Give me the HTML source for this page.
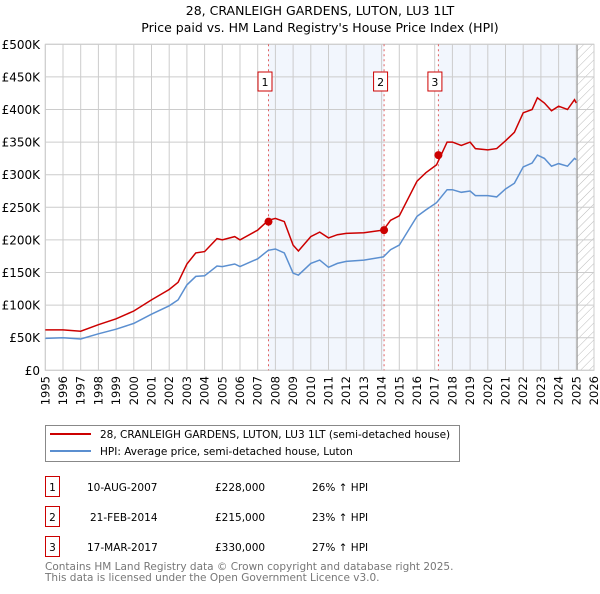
<!DOCTYPE html>
<html><head><meta charset="utf-8"><style>
body{margin:0;background:#fff;font-family:"DejaVu Sans","Liberation Sans",sans-serif;}
svg text{font-family:"DejaVu Sans","Liberation Sans",sans-serif;}
</style></head><body>
<svg id="c" width="600" height="590" xmlns="http://www.w3.org/2000/svg">
<defs><pattern id="hatch" width="6" height="6" patternUnits="userSpaceOnUse" patternTransform="rotate(45)"><line x1="0" y1="0" x2="0" y2="6" stroke="#bbb" stroke-width="1"/></pattern></defs>
<text x="320" y="15" text-anchor="middle" font-size="12.5">28, CRANLEIGH GARDENS, LUTON, LU3 1LT</text>
<text x="320" y="32" text-anchor="middle" font-size="12.5">Price paid vs. HM Land Registry's House Price Index (HPI)</text>
<g id="plot"></g>
<g>
<rect x="45.5" y="425.5" width="414" height="36" fill="#fff" stroke="#888"/>
<line x1="50" y1="434" x2="91" y2="434" stroke="#cc0000" stroke-width="2"/>
<text x="100" y="438" font-size="10.5">28, CRANLEIGH GARDENS, LUTON, LU3 1LT (semi-detached house)</text>
<line x1="50" y1="451" x2="91" y2="451" stroke="#5b8fd0" stroke-width="2"/>
<text x="100" y="455" font-size="10.5">HPI: Average price, semi-detached house, Luton</text>
</g>
<g font-size="10.5">
<rect x="45.5" y="476.5" width="14" height="20" fill="#fff" stroke="#cc0000"/><text x="52.5" y="491" text-anchor="middle">1</text>
<text x="87" y="491">10-AUG-2007</text><text x="215" y="491">£228,000</text><text x="312" y="491">26% ↑ HPI</text>
<rect x="45.5" y="506.5" width="14" height="20" fill="#fff" stroke="#cc0000"/><text x="52.5" y="521" text-anchor="middle">2</text>
<text x="90" y="521">21-FEB-2014</text><text x="215" y="521">£215,000</text><text x="312" y="521">23% ↑ HPI</text>
<rect x="45.5" y="536.5" width="14" height="20" fill="#fff" stroke="#cc0000"/><text x="52.5" y="551" text-anchor="middle">3</text>
<text x="87" y="551">17-MAR-2017</text><text x="215" y="551">£330,000</text><text x="312" y="551">27% ↑ HPI</text>
</g>
<text x="45" y="570" font-size="10.5" fill="#777">Contains HM Land Registry data © Crown copyright and database right 2025.</text>
<text x="45" y="581" font-size="10.5" fill="#777">This data is licensed under the Open Government Licence v3.0.</text>
</svg>
<script>
const years=[1995,1996,1997,1998,1999,2000,2001,2002,2002.5,2003,2003.5,2004,2004.7,2005,2005.7,2006,2007,2007.6,2008,2008.5,2009,2009.3,2010,2010.5,2011,2011.5,2012,2013,2014.1,2014.5,2015,2016,2016.5,2017.1,2017.7,2018,2018.5,2019,2019.3,2020,2020.5,2021,2021.5,2022,2022.5,2022.8,2023.2,2023.6,2024,2024.5,2024.9,2025];
const hpiValues=[49,50,48,56,63,72,86,99,108,131,144,145,160,159,163,159,171,184,186,180,149,146,164,169,158,164,167,169,174,185,192,236,246,257,277,277,273,275,268,268,266,278,287,312,318,330,325,313,317,313,325,323];
const propertyValues=[62,62,60,70,79,91,108,124,135,163,180,182,202,200,205,200,215,230,233,228,192,183,205,212,203,208,210,211,215,230,237,290,303,315,350,350,345,350,340,338,340,352,365,395,400,418,410,398,405,400,415,410];
const saleYears=[2007.61,2014.14,2017.21];
const salePrices=[228,215,330];
const yTicks=[0,50,100,150,200,250,300,350,400,450,500];
const yTickLabels=["£0","£50K","£100K","£150K","£200K","£250K","£300K","£350K","£400K","£450K","£500K"];
const xTicks=[1995,1996,1997,1998,1999,2000,2001,2002,2003,2004,2005,2006,2007,2008,2009,2010,2011,2012,2013,2014,2015,2016,2017,2018,2019,2020,2021,2022,2023,2024,2025,2026];

const X0=45.3,X1=594,Y0=370.3,Y1=44.3;
const xs=y=>X0+(y-1995)/(2026-1995)*(X1-X0);
const ys=v=>Y0-(v/500)*(Y0-Y1);
const NS="http://www.w3.org/2000/svg";
const g=document.getElementById('plot');
function mk(t,a){const e=document.createElementNS(NS,t);for(const k in a)e.setAttribute(k,a[k]);g.appendChild(e);return e;}
let e;
e=mk('rect',{x:X0,y:Y1,width:X1-X0,height:Y0-Y1,fill:'#fff'});


e=mk('rect',{x:xs(saleYears[0]),y:Y1,width:xs(saleYears[1])-xs(saleYears[0]),height:Y0-Y1,fill:'#eef3fc',opacity:0.75});


e=mk('rect',{x:xs(saleYears[2]),y:Y1,width:xs(2025.05)-xs(saleYears[2]),height:Y0-Y1,fill:'#eef3fc',opacity:0.75});


e=mk('rect',{x:xs(2025.05),y:Y1,width:X1-xs(2025.05),height:Y0-Y1,fill:'url(#hatch)'});


xTicks.forEach(t=>{
 e=mk('line',{x1:xs(t),x2:xs(t),y1:Y1,y2:Y0,stroke:'#ccc','stroke-width':1});
 
 
 e=mk('text',{x:0,y:0,'font-size':11.5,'text-anchor':'end',transform:`translate(${xs(t)+4},376) rotate(-90)`});
 e.textContent=t;
 
 
});
yTicks.forEach((t,i)=>{
 e=mk('line',{x1:X0,x2:X1,y1:ys(t),y2:ys(t),stroke:'#ccc','stroke-width':1});
 
 
 e=mk('text',{x:40,y:ys(t)+4.5,'font-size':12,'text-anchor':'end'});
 e.textContent=yTickLabels[i];
 
 
});
e=mk('line',{x1:xs(2025.05),x2:xs(2025.05),y1:Y1,y2:Y0,stroke:'#999','stroke-width':1});


e=mk('rect',{x:X0,y:Y1,width:X1-X0,height:Y0-Y1,fill:'none',stroke:'#ccc'});


saleYears.forEach((s,i)=>{
 e=mk('line',{x1:xs(s),x2:xs(s),y1:Y1,y2:Y0,stroke:'#e06060','stroke-width':1,'stroke-dasharray':'2,3'});
 
 
 e=mk('rect',{x:xs(s)-10.5,y:72,width:14,height:19,fill:'#fff',stroke:'#cc0000'});
 
 
 e=mk('text',{x:xs(s)-3.5,y:86,'font-size':11,'text-anchor':'middle'});
 e.textContent=i+1;
 
 
});
function path(vals){return vals.map((v,i)=>(i?'L':'M')+xs(years[i]).toFixed(1)+','+ys(v).toFixed(1)).join('');}
e=mk('path',{d:path(hpiValues),fill:'none',stroke:'#5b8fd0','stroke-width':1.5});


e=mk('path',{d:path(propertyValues),fill:'none',stroke:'#cc0000','stroke-width':1.5});


saleYears.forEach((s,i)=>{
 e=mk('circle',{cx:xs(s),cy:ys(salePrices[i]),r:4,fill:'#cc0000'});
 
 
});
</script>
</body></html>
